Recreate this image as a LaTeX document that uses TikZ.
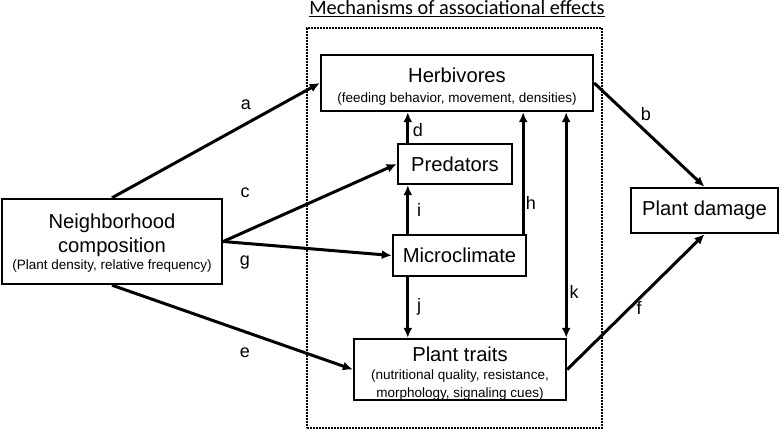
\documentclass[tikz,border=0pt]{standalone}
\usepackage{fontspec}
\setmainfont{Liberation Sans}
\newfontfamily\titlefont{Carlito}
\usetikzlibrary{arrows.meta}
\newcommand{\bigtext}{\fontsize{20.2}{21}\selectfont}
\newcommand{\smalltext}{\fontsize{13.5}{16}\selectfont}
\newcommand{\lettertext}{\fontsize{18}{20}\selectfont}
\newcommand{\lift}[1]{\rule{0pt}{#1pt}}
\tikzset{
    common/.style={draw, line width=2.4pt, rectangle, inner sep=0pt, align=center, font=\bigtext},
    box/.style args={#1x#2}{common, minimum width=#1pt, minimum height=#2pt},
    edge/.style={-{Latex[length=10pt, width=9pt]}, line width=3pt},
    twoway/.style={{Latex[length=10pt, width=9pt]}-{Latex[length=10pt, width=9pt]}, line width=3pt},
    letter/.style={font=\lettertext, inner sep=0pt},
    frame/.style={draw, line width=1.7pt, dash pattern=on 1.7pt off 1.3pt}
}

\begin{document}
\begin{tikzpicture}[x=1pt, y=-1pt]
    \useasboundingbox (0,0) rectangle (780,431);

    \path
        (0,0)
        +(454.5,228) node[frame, minimum width=295pt, minimum height=400pt] (mechanisms) {}
        +(457,9) node[font=\titlefont\fontsize{20.3}{22}\selectfont] (title) {\underline{Mechanisms of associational effects}}
        +(457,83) node[box=272x56] (herb) {\lift{22}Herbivores\\[-1pt]{\smalltext (feeding behavior, movement, densities)}}
        +(455,164) node[box=114x40] (pred) {Predators}
        +(459.5,255.5) node[box=133x41] (micro) {Microclimate}
        +(460,369.5) node[box=212x61] (traits) {\lift{22}Plant traits\\[-3pt]{\smalltext (nutritional quality, resistance,}\\[-3pt]{\smalltext morphology, signaling cues)}}
        +(112,241.5) node[box=220x85] (neigh) {\lift{18}Neighborhood\\[3pt]composition\\[-4pt]{\smalltext (Plant density, relative frequency)}}
        +(704.5,210.5) node[box=147x45] (damage) {Plant damage};

    % arrows leaving the neighborhood
    \draw[edge] (neigh.north) -- (herb.west);
    \draw[edge] (neigh.east) -- (pred.west);
    \draw[edge] (neigh.east) -- (micro.west);
    \draw[edge] (neigh.south) -- (traits.west);

    % arrows inside the mechanisms
    \draw[edge] ([xshift=11pt]pred.north west) -- ([xshift=11pt]pred.north west |- herb.south);
    \draw[edge] ([xshift=16pt]micro.north west) -- ([xshift=16pt]micro.north west |- pred.south);
    \draw[edge] ([xshift=16pt]micro.south west) -- ([xshift=16pt]micro.south west |- traits.north);
    \draw[edge] ([xshift=-4pt]micro.north east) -- ([xshift=-4pt]micro.north east |- herb.south);
    \draw[twoway] ([xshift=-1pt]traits.north east) -- ([xshift=-1pt]traits.north east |- herb.south);

    % arrows to the damage
    \draw[edge] (herb.east) -- (damage.north);
    \draw[edge] (traits.east) -- (damage.south);

    \path
        (0,0)
        +(246,105) node[letter] (label-a) {a}
        +(646,114) node[letter] (label-b) {b}
        +(245,193) node[letter] (label-c) {c}
        +(418,130) node[letter] (label-d) {d}
        +(245,353) node[letter] (label-e) {e}
        +(639,308) node[letter] (label-f) {f}
        +(245,263) node[letter] (label-g) {g}
        +(531,203) node[letter] (label-h) {h}
        +(419,210) node[letter] (label-i) {i}
        +(419,307) node[letter] (label-j) {j}
        +(574,292) node[letter] (label-k) {k};
\end{tikzpicture}
\end{document}
